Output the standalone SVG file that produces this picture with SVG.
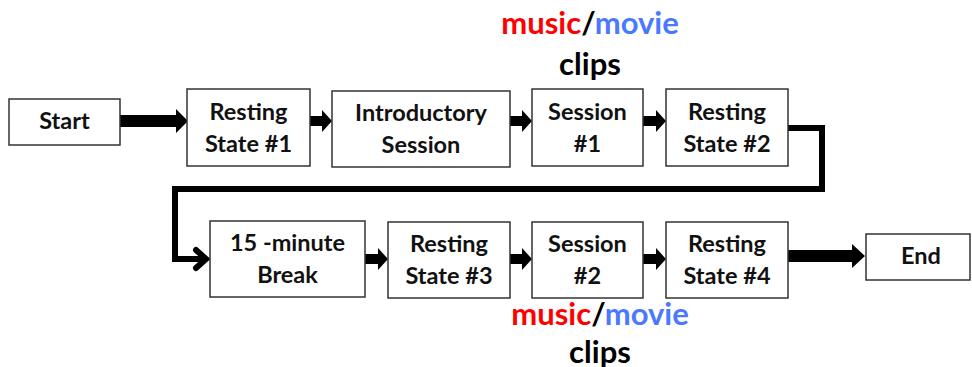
<svg xmlns="http://www.w3.org/2000/svg" width="972" height="367" viewBox="0 0 972 367">
  <style>
    .box { fill: #ffffff; stroke: #333333; stroke-width: 1.5; }
    .lbl { font-family: Lato, "Liberation Sans", sans-serif; font-weight: bold; font-size: 23.5px; fill: #111111; text-anchor: middle; }
    .big { font-family: Lato, "Liberation Sans", sans-serif; font-weight: bold; font-size: 31px; text-anchor: middle; }
    .arrow { fill: #000000; }
    .wire { fill: none; stroke: #000000; stroke-width: 6; stroke-linejoin: miter; }
  </style>
  <rect width="972" height="367" fill="#ffffff"/>

  <!-- connectors -->
  <g id="connectors">
    <!-- Start to Resting State #1 -->
    <polygon class="arrow" points="120,115 176,115 176,109 188,121 176,133 176,127 120,127"/>
    <!-- Resting State #1 to Introductory Session -->
    <polygon class="arrow" points="310,116 322,116 322,110 332,121 322,132 322,126 310,126"/>
    <!-- Introductory Session to Session #1 -->
    <polygon class="arrow" points="510,116 522,116 522,110 532,121 522,132 522,126 510,126"/>
    <!-- Session #1 to Resting State #2 -->
    <polygon class="arrow" points="643,116 656,116 656,110 666,121 656,132 656,126 643,126"/>
    <!-- Resting State #2 wraps down to 15-minute Break -->
    <path class="wire" d="M788,128 H822 V189 H175 V259 H204"/>
    <path class="wire" d="M196,250 L206,259 L196,268" stroke-linecap="round"/>
    <!-- 15-minute Break to Resting State #3 -->
    <polygon class="arrow" points="365,254 378,254 378,248 388,259 378,270 378,264 365,264"/>
    <!-- Resting State #3 to Session #2 -->
    <polygon class="arrow" points="510,254 522,254 522,248 532,259 522,270 522,264 510,264"/>
    <!-- Session #2 to Resting State #4 -->
    <polygon class="arrow" points="643,254 656,254 656,248 666,259 656,270 656,264 643,264"/>
    <!-- Resting State #4 to End -->
    <polygon class="arrow" points="788,250 852,250 852,244 865,256 852,268 852,262 788,262"/>
  </g>

  <g id="start">
    <rect class="box" x="9" y="99" width="111" height="46"/>
    <text class="lbl" x="64.5" y="129">Start</text>
  </g>
  <g id="resting1">
    <rect class="box" x="187" y="89" width="123" height="77"/>
    <text class="lbl" x="248.5" y="120">Resting</text>
    <text class="lbl" x="248.5" y="152">State #1</text>
  </g>
  <g id="intro">
    <rect class="box" x="332" y="91" width="178" height="76"/>
    <text class="lbl" x="421" y="121">Introductory</text>
    <text class="lbl" x="421" y="153">Session</text>
  </g>
  <g id="session1">
    <rect class="box" x="532" y="89" width="111" height="77"/>
    <text class="lbl" x="587.5" y="120">Session</text>
    <text class="lbl" x="587.5" y="152">#1</text>
  </g>
  <g id="resting2">
    <rect class="box" x="666" y="89" width="122" height="77"/>
    <text class="lbl" x="727" y="120">Resting</text>
    <text class="lbl" x="727" y="152">State #2</text>
  </g>
  <g id="break">
    <rect class="box" x="210" y="221" width="155" height="76"/>
    <text class="lbl" x="287.5" y="251">15 -minute</text>
    <text class="lbl" x="287.5" y="283">Break</text>
  </g>
  <g id="resting3">
    <rect class="box" x="388" y="222" width="122" height="76"/>
    <text class="lbl" x="449" y="252">Resting</text>
    <text class="lbl" x="449" y="284">State #3</text>
  </g>
  <g id="session2">
    <rect class="box" x="532" y="222" width="111" height="76"/>
    <text class="lbl" x="587.5" y="252">Session</text>
    <text class="lbl" x="587.5" y="284">#2</text>
  </g>
  <g id="resting4">
    <rect class="box" x="666" y="222" width="122" height="76"/>
    <text class="lbl" x="727" y="252">Resting</text>
    <text class="lbl" x="727" y="284">State #4</text>
  </g>
  <g id="end">
    <rect class="box" x="866" y="234" width="104" height="46"/>
    <text class="lbl" x="921" y="264">End</text>
  </g>

  <g id="clips-top">
    <text class="big" x="590" y="34"><tspan fill="#ff0000">music</tspan><tspan fill="#000000">/</tspan><tspan fill="#4a78ff">movie</tspan></text>
    <text class="big" x="590" y="75" fill="#000000">clips</text>
  </g>
  <g id="clips-bottom">
    <text class="big" x="600" y="325"><tspan fill="#ff0000">music</tspan><tspan fill="#000000">/</tspan><tspan fill="#4a78ff">movie</tspan></text>
    <text class="big" x="600" y="363" fill="#000000">clips</text>
  </g>
</svg>
